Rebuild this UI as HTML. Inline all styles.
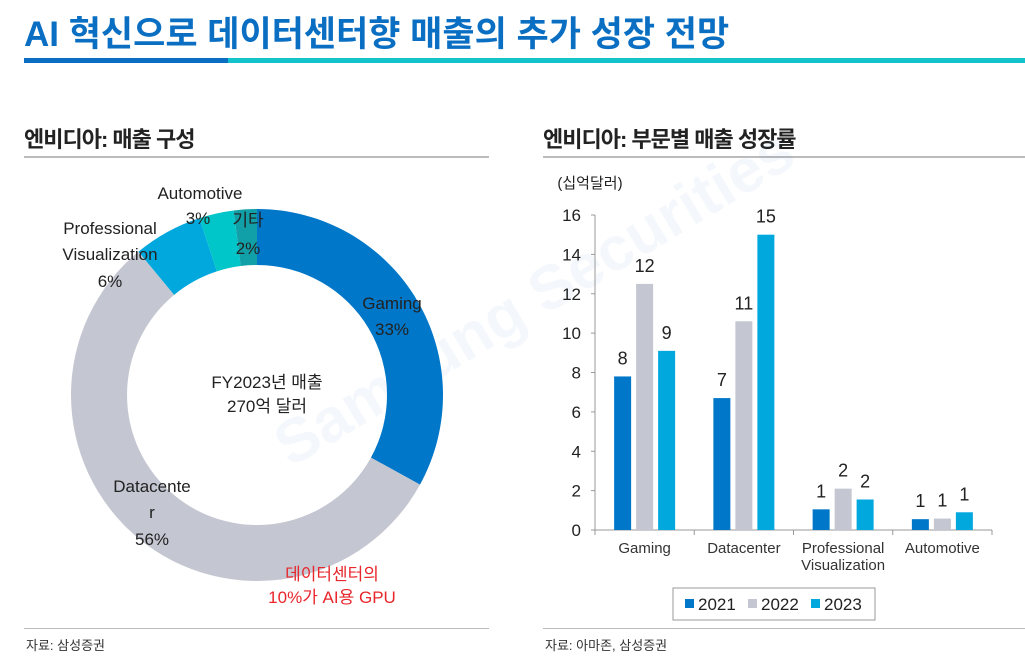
<!DOCTYPE html>
<html><head><meta charset="utf-8"><style>
body{margin:0;width:1025px;height:663px;background:#fff;font-family:"Liberation Sans","Noto Sans CJK KR",sans-serif;position:relative;overflow:hidden}
.a{position:absolute;white-space:nowrap}
</style></head><body>
<div class="a" style="left:24px;top:6px;font-size:35px;font-weight:bold;color:#0a6fc2;letter-spacing:0px">AI 혁신으로 데이터센터향 매출의 추가 성장 전망</div>
<div class="a" style="left:24px;top:58px;width:204px;height:5px;background:#0a6fc2"></div>
<div class="a" style="left:228px;top:58px;width:797px;height:5px;background:#12c3cc"></div>
<div class="a" style="left:24px;top:122px;font-size:22px;font-weight:bold;color:#222;letter-spacing:-1px">엔비디아: 매출 구성</div>
<div class="a" style="left:24px;top:156px;width:465px;height:2px;background:#bbb"></div>
<div class="a" style="left:543px;top:122px;font-size:22px;font-weight:bold;color:#222;letter-spacing:-1px">엔비디아: 부문별 매출 성장률</div>
<div class="a" style="left:543px;top:156px;width:482px;height:2px;background:#bbb"></div>
<div class="a" style="left:24px;top:628px;width:465px;height:1px;background:#bbb"></div>
<div class="a" style="left:543px;top:628px;width:482px;height:1px;background:#bbb"></div>
<div class="a" style="left:26px;top:635px;font-size:13px;color:#333">자료: 삼성증권</div>
<div class="a" style="left:545px;top:635px;font-size:13px;color:#333">자료: 아마존, 삼성증권</div>
<div class="a" style="left:262px;top:420px;font-size:62px;font-weight:bold;color:#0a6fc2;opacity:0.04;transform:rotate(-31deg);transform-origin:left top">Samsung Securities</div>

<svg id="donut" width="1025" height="663" style="position:absolute;left:0;top:0"></svg>
<svg id="bars" width="1025" height="663" style="position:absolute;left:0;top:0"></svg>

<script>
const segNames=["Gaming","Datacenter","Professional Visualization","Automotive","기타"];
const segShares=[33,56,6,3,2];
const segColors=["#0077c8","#c4c6d1","#00a8de","#00c6c9","#11a0a8"];
const cats=["Gaming","Datacenter","Professional|Visualization","Automotive"];
const years=["2021","2022","2023"];
const v2021=[7.8,6.7,1.05,0.55];
const v2022=[12.5,10.6,2.1,0.58];
const v2023=[9.1,15.0,1.55,0.9];
const lbl2021=["8","7","1","1"];
const lbl2022=["12","11","2","1"];
const lbl2023=["9","15","2","1"];
const yTicks=[0,2,4,6,8,10,12,14,16];
const NS="http://www.w3.org/2000/svg";
function mk(p,t,a){const e=document.createElementNS(NS,t);for(const k in a)e.setAttribute(k,a[k]);p.appendChild(e);return e;}
function txt(p,x,y,s,o){const e=mk(p,"text",Object.assign({x:x,y:y,"font-size":17,fill:"#222","text-anchor":"middle","font-family":"Liberation Sans, Noto Sans CJK KR, sans-serif"},o||{}));e.textContent=s;return e;}
const d=document.getElementById("donut");
const cx=257,cy=395,R=186,r=130;
const tot=segShares.reduce((a,b)=>a+b,0);
let acc=0;
function pt(a,rad){return [cx+rad*Math.sin(a),cy-rad*Math.cos(a)];}
segShares.forEach((v,i)=>{
 const a0=acc/tot*2*Math.PI;acc+=v;const a1=acc/tot*2*Math.PI;
 const lg=(a1-a0)>Math.PI?1:0;
 const p0=pt(a0,R),p1=pt(a1,R),q1=pt(a1,r),q0=pt(a0,r);
 const e=mk(d,"path",{d:`M${p0[0]},${p0[1]}A${R},${R} 0 ${lg} 1 ${p1[0]},${p1[1]}L${q1[0]},${q1[1]}A${r},${r} 0 ${lg} 0 ${q0[0]},${q0[1]}Z`,fill:segColors[i]});
 
 
});
txt(d,392,309,"Gaming");txt(d,392,335,"33%");
txt(d,152,492,"Datacente");txt(d,152,518,"r");txt(d,152,545,"56%");
txt(d,110,234,"Professional");txt(d,110,260,"Visualization");txt(d,110,287,"6%");
txt(d,200,199,"Automotive");txt(d,198,224,"3%");
txt(d,248,226,"기타");txt(d,248,254,"2%");
txt(d,267,388,"FY2023년 매출");txt(d,267,412,"270억 달러");
txt(d,332,580,"데이터센터의",{fill:"#e8262b"});txt(d,332,603,"10%가 AI용 GPU",{fill:"#e8262b"});
const b=document.getElementById("bars");
const x0=595,x1=992,y0=530,yTop=215,yMax=16;
const Y=v=>y0-(v/yMax)*(y0-yTop);
const gw=(x1-x0)/cats.length,bw=17,gap=5;
txt(b,590,188,"(십억달러)",{"font-size":15,"text-anchor":"middle"});
mk(b,"line",{x1:x0,y1:yTop,x2:x0,y2:y0,stroke:"#999"});
mk(b,"line",{x1:x0,y1:y0,x2:x1,y2:y0,stroke:"#999"});
yTicks.forEach(t=>{mk(b,"line",{x1:x0-4,y1:Y(t),x2:x0,y2:Y(t),stroke:"#999"});txt(b,x0-14,Y(t)+6,String(t),{"text-anchor":"end","font-size":17});});
for(let i=0;i<=cats.length;i++)mk(b,"line",{x1:x0+i*gw,y1:y0,x2:x0+i*gw,y2:y0+5,stroke:"#999"});
const series=[v2021,v2022,v2023],lbls=[lbl2021,lbl2022,lbl2023];
cats.forEach((c,i)=>{
 const gc=x0+gw*(i+0.5);
 series.forEach((s,j)=>{
  const bx=gc+(j-1)*(bw+gap)-bw/2;
  const e=mk(b,"rect",{x:bx,y:Y(s[i]),width:bw,height:y0-Y(s[i]),fill:segColors[j]});
  
  
  txt(b,bx+bw/2,Y(s[i])-12,lbls[j][i],{"font-size":18});
 });
 c.split("|").forEach((l,k)=>txt(b,gc,553+k*17,l,{"font-size":15,fill:"#333"}));
});
const lg=mk(b,"rect",{x:673,y:588,width:202,height:32,fill:"#fff",stroke:"#999"});


years.forEach((yv,j)=>{
 const lx=685+j*63;
 const sw=mk(b,"rect",{x:lx,y:599,width:9,height:9,fill:segColors[j]});
 
 
 txt(b,lx+13,610,yv,{"text-anchor":"start","font-size":17});
});
</script>
</body></html>
